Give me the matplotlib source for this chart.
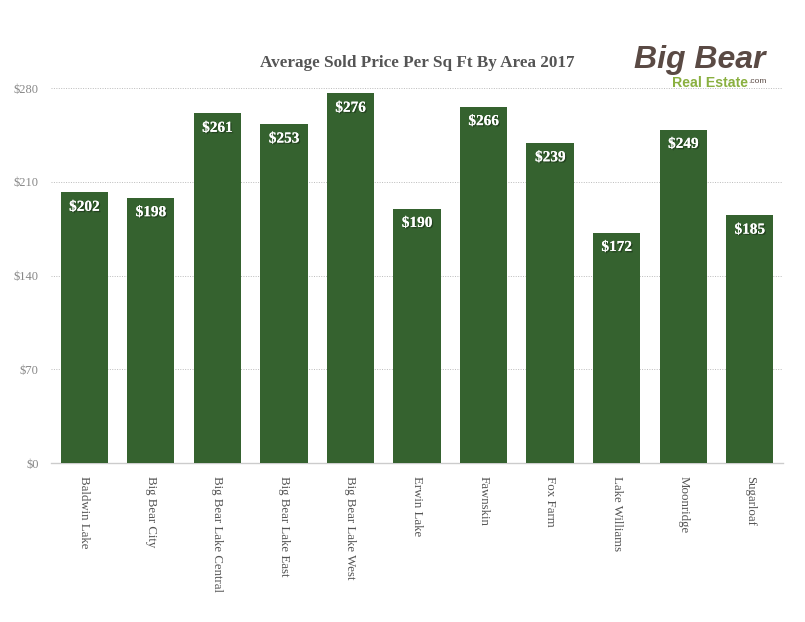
import matplotlib.pyplot as plt
import matplotlib.patheffects as pe
import numpy as np

areas = ["Baldwin Lake", "Big Bear City", "Big Bear Lake Central", "Big Bear Lake East",
         "Big Bear Lake West", "Erwin Lake", "Fawnskin", "Fox Farm", "Lake Williams",
         "Moonridge", "Sugarloaf"]
prices = [202, 198, 261, 253, 276, 190, 266, 239, 172, 249, 185]
yticks = [0, 70, 140, 210, 280]

plt.rcParams["font.family"] = ["Liberation Serif", "DejaVu Serif"]

fig = plt.figure(figsize=(8.05, 6.22), dpi=100)
ax = fig.add_axes([0.0634, 0.2556, 0.9093, 0.6029])

x = np.arange(len(areas))
ax.bar(x, prices, width=0.71, color="#35622F", zorder=3)
ax.set_xlim(-0.5, len(areas) - 0.5)
ax.set_ylim(0, 280)

for xi, v in zip(x, prices):
    ax.annotate(f"${v}", (xi, v), xytext=(0, -6), textcoords="offset points",
                ha="center", va="top", color="white", fontsize=11, fontweight="bold",
                zorder=4,
                path_effects=[pe.withSimplePatchShadow(offset=(1, -1), shadow_rgbFace="#1a2e17", alpha=0.6),
                              pe.Normal()])

ax.set_yticks(yticks)
ax.set_yticklabels([f"${t}" for t in yticks], color="#888888", fontsize=9)
ax.set_xticks(x)
ax.set_xticklabels(areas, rotation=-90, va="top", ha="center", color="#555555", fontsize=9.3)
ax.tick_params(length=0)
ax.tick_params(axis="y", pad=9)
ax.tick_params(axis="x", pad=9)
ax.grid(axis="y", linestyle=(0, (1, 1.5)), color="#bbbbbb", linewidth=0.7, zorder=0)
for s in ["top", "right", "left"]:
    ax.spines[s].set_visible(False)
ax.spines["bottom"].set_color("#cccccc")
ax.spines["bottom"].set_linewidth(1)

fig.text(0.518, 0.898, "Average Sold Price Per Sq Ft By Area 2017", ha="center", va="center",
         fontsize=12.3, fontweight="bold", color="#555555")

# logo
fig.text(0.869, 0.903, "Big Bear", ha="center", va="center", fontsize=23, style="italic",
         fontweight="bold", color="#5a4a44", family=["Liberation Sans", "DejaVu Sans"])
fig.text(0.929, 0.866, "Real Estate", ha="right", va="center", fontsize=10.2,
         fontweight="bold", color="#8ab040", family=["Liberation Sans", "DejaVu Sans"])
fig.text(0.930, 0.869, ".com", ha="left", va="center", fontsize=6, color="#5a4a44",
         family=["Liberation Sans", "DejaVu Sans"])

fig.savefig("out.png", dpi=100)
